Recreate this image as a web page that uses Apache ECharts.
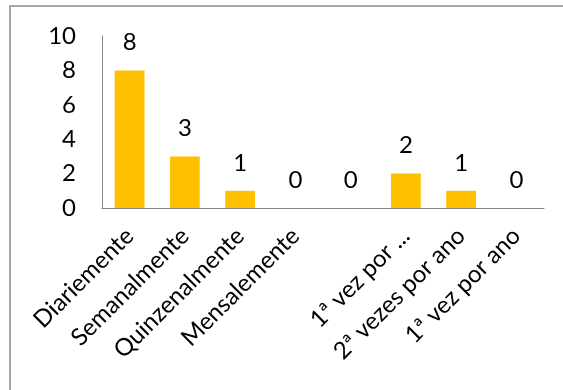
<!DOCTYPE html>
<html>
<head>
<meta charset="utf-8">
<script src="https://cdn.jsdelivr.net/npm/echarts@6/dist/echarts.min.js"></script>
<style>
  html, body { margin: 0; padding: 0; background: #fff; }
  #chart { width: 563px; height: 390px; }
</style>
</head>
<body>
<div id="chart"></div>
<script>
// Frequency categories and counts
const categories = ['Diariemente', 'Semanalmente', 'Quinzenalmente', 'Mensalemente', '', '1ª vez por ...', '2ª vezes por ano', '1ª vez por ano'];
const counts = [8, 3, 1, 0, 0, 2, 1, 0];
const yTicks = [0, 2, 4, 6, 8, 10];

const FONT = 'Lato';
const FS = 24;

const chart = echarts.init(document.getElementById('chart'), null, { renderer: 'canvas' });
chart.setOption({
  animation: false,
  backgroundColor: '#ffffff',
  graphic: [{
    type: 'rect',
    shape: { x: 10, y: 6, width: 600, height: 420 },
    style: { fill: 'none', stroke: '#a6a6a6', lineWidth: 2 },
    silent: true
  }],
  grid: { left: 102, right: 19, top: 36, bottom: 182, containLabel: false },
  xAxis: {
    type: 'category',
    data: categories,
    axisLine: { lineStyle: { color: '#868686', width: 1 } },
    axisTick: { show: false },
    axisLabel: {
      interval: 0,
      rotate: 45,
      margin: 24,
      color: '#000',
      fontFamily: FONT,
      fontSize: FS
    }
  },
  yAxis: {
    type: 'value',
    min: yTicks[0],
    max: yTicks[yTicks.length - 1],
    interval: 2,
    splitLine: { show: false },
    axisLine: { show: true, lineStyle: { color: '#868686', width: 1 } },
    axisTick: { show: false },
    axisLabel: {
      margin: 26,
      color: '#000',
      fontFamily: FONT,
      fontSize: FS
    }
  },
  series: [{
    type: 'bar',
    data: counts,
    barWidth: '54%',
    itemStyle: { color: '#FFC000' },
    label: {
      show: true,
      position: 'top',
      distance: 16,
      color: '#000',
      fontFamily: FONT,
      fontSize: FS
    }
  }]
});
</script>
</body>
</html>
